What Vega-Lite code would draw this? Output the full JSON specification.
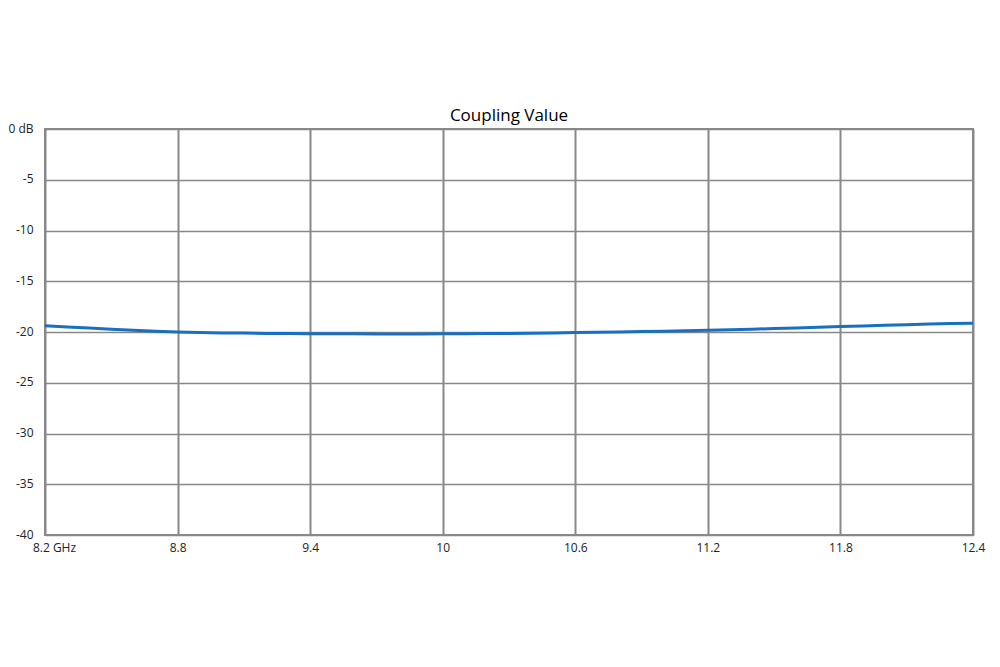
{
  "$schema": "https://vega.github.io/schema/vega-lite/v6.json",
  "autosize": "none",
  "width": 928,
  "height": 406,
  "padding": {"left": 45, "top": 129, "right": 27, "bottom": 132},
  "background": "white",
  "title": {"text": "Coupling Value", "fontSize": 17, "font": "Open Sans", "fontWeight": "normal", "color": "#000", "offset": -3},
  "data": {"values": [
    {"f": 8.2, "db": -19.38}, {"f": 8.3, "db": -19.5}, {"f": 8.4, "db": -19.6}, {"f": 8.5, "db": -19.72},
    {"f": 8.6, "db": -19.82}, {"f": 8.7, "db": -19.92}, {"f": 8.8, "db": -20.0}, {"f": 8.9, "db": -20.05},
    {"f": 9.0, "db": -20.1}, {"f": 9.1, "db": -20.1}, {"f": 9.2, "db": -20.14}, {"f": 9.3, "db": -20.15},
    {"f": 9.4, "db": -20.17}, {"f": 9.5, "db": -20.18}, {"f": 9.6, "db": -20.18}, {"f": 9.7, "db": -20.2},
    {"f": 9.8, "db": -20.19}, {"f": 9.9, "db": -20.2}, {"f": 10.0, "db": -20.18}, {"f": 10.1, "db": -20.17},
    {"f": 10.2, "db": -20.15}, {"f": 10.3, "db": -20.14}, {"f": 10.4, "db": -20.12}, {"f": 10.5, "db": -20.1},
    {"f": 10.6, "db": -20.06}, {"f": 10.7, "db": -20.03}, {"f": 10.8, "db": -20.0}, {"f": 10.9, "db": -19.96},
    {"f": 11.0, "db": -19.92}, {"f": 11.1, "db": -19.87}, {"f": 11.2, "db": -19.82}, {"f": 11.3, "db": -19.77},
    {"f": 11.4, "db": -19.72}, {"f": 11.5, "db": -19.66}, {"f": 11.6, "db": -19.6}, {"f": 11.7, "db": -19.53},
    {"f": 11.8, "db": -19.46}, {"f": 11.9, "db": -19.4}, {"f": 12.0, "db": -19.34}, {"f": 12.1, "db": -19.28},
    {"f": 12.2, "db": -19.22}, {"f": 12.3, "db": -19.17}, {"f": 12.4, "db": -19.13}
  ]},
  "mark": {"type": "line", "color": "#1a6fc1", "strokeWidth": 3, "clip": true},
  "encoding": {
    "x": {"field": "f", "type": "quantitative",
      "scale": {"domain": [8.2, 12.4], "nice": false, "zero": false},
      "axis": {"title": null, "values": [8.2, 8.8, 9.4, 10, 10.6, 11.2, 11.8, 12.4],
        "labelExpr": "datum.value < 8.3 ? '8.2 GHz' : (datum.value == 10 ? '10' : datum.label)",
        "labelOffset": {"condition": {"test": "datum.value < 8.3", "value": 9}, "value": 0},
        "domain": false, "ticks": false, "labelPadding": 7, "labelFontSize": 12, "labelFont": "Open Sans", "labelColor": "#222",
        "gridColor": "#888", "gridWidth": 2, "gridOpacity": 1, "labelFlush": false}},
    "y": {"field": "db", "type": "quantitative",
      "scale": {"domain": [-40, 0], "nice": false, "zero": false},
      "axis": {"title": null, "values": [0, -5, -10, -15, -20, -25, -30, -35, -40],
        "labelExpr": "datum.value == 0 ? '0 dB' : '-' + abs(datum.value)",
        "domain": false, "ticks": false, "labelPadding": 12, "labelFontSize": 12, "labelFont": "Open Sans", "labelColor": "#222",
        "labelBaseline": "bottom", "labelOffset": 6,
        "gridColor": "#888", "gridWidth": 1.5, "gridOpacity": 1, "labelFlush": false}}
  },
  "config": {"view": {"stroke": "#888", "strokeWidth": 2}}
}
